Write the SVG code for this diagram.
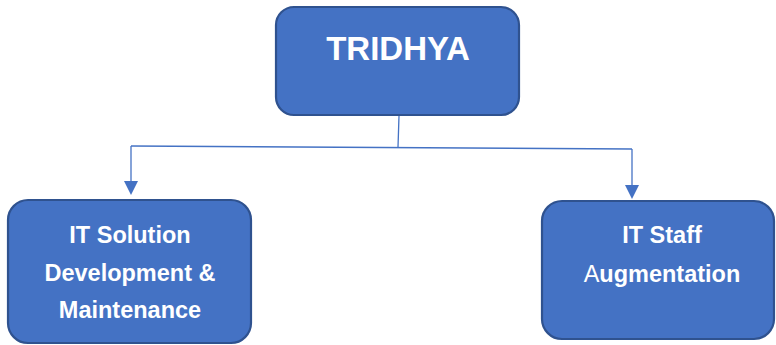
<svg xmlns="http://www.w3.org/2000/svg" width="776" height="345" viewBox="0 0 776 345">
<defs>
<style>
.box{fill:#4472C4;stroke:#2F528F;stroke-width:2.2}
.t{fill:#fff;font-family:"Liberation Sans",Arial,sans-serif;font-weight:bold;text-anchor:middle}
.c{fill:none;stroke:#4472C4;stroke-width:1.3}
.ah{fill:#4472C4}
</style>
</defs>
<g id="connectors">
<path class="c" d="M399,116 L398,147"/>
<path class="c" d="M131,146 L632,149"/>
<path class="c" d="M131,146 L131,181"/>
<path class="ah" d="M124,181 L138,181 L131,195 Z"/>
<path class="c" d="M632,149 L632,185"/>
<path class="ah" d="M625,185 L639,185 L632,199 Z"/>
</g>
<g id="tridhya">
<rect class="box" x="276" y="7" width="243" height="108" rx="18"/>
<text class="t" x="398" y="60" font-size="33">TRIDHYA</text>
</g>
<g id="it-solution">
<rect class="box" x="8" y="200" width="243" height="143" rx="20"/>
<text class="t" x="130" y="243" font-size="23.5">IT Solution</text>
<text class="t" x="130" y="281" font-size="23.5">Development &amp;</text>
<text class="t" x="130" y="318" font-size="23.5">Maintenance</text>
</g>
<g id="it-staff">
<rect class="box" x="542" y="201" width="232" height="138" rx="20"/>
<text class="t" x="662" y="243" font-size="23.5">IT Staff</text>
<text class="t" x="662" y="282" font-size="23.5"><tspan font-weight="normal">A</tspan>ugmentation</text>
</g>
</svg>
